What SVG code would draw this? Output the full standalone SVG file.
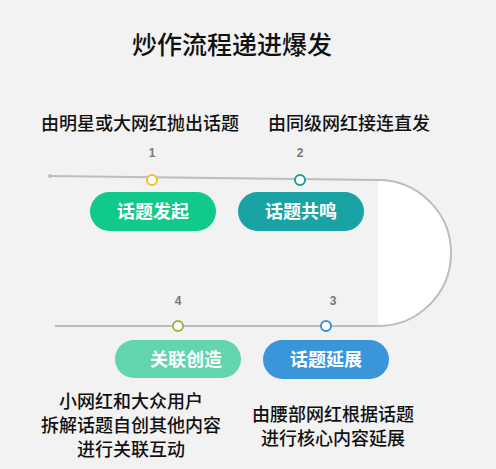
<svg xmlns="http://www.w3.org/2000/svg" width="496" height="469" viewBox="0 0 496 469">
<style>
.lbl{font-family:"Noto Sans CJK SC","Noto Sans",sans-serif;font-size:18px;font-weight:500;fill:#111;text-anchor:middle}
.ttl{font-family:"Noto Sans CJK SC","Noto Sans",sans-serif;font-size:25px;font-weight:500;fill:#111;text-anchor:middle}
.pt{font-family:"Noto Sans CJK SC","Noto Sans",sans-serif;font-size:18px;font-weight:bold;fill:#fff;text-anchor:middle}
.num{font-family:"Liberation Sans",Arial,sans-serif;font-size:12px;font-weight:bold;fill:#777;text-anchor:middle}
.dot{fill:#fff;stroke-width:2}
.track{fill:none;stroke:#bdbdbd;stroke-width:2}
</style>
<rect width="496" height="469" fill="#f2f2f2"/>
<text class="ttl" x="232" y="54">炒作流程递进爆发</text>
<g id="connectors">
<path d="M378 180 A73 73 0 0 1 378 326 Z" fill="#fff" stroke="none"/>
<path class="track" d="M50 176 L378 180 A73 73 0 0 1 378 326 L55 326"/>
<circle cx="50" cy="176" r="2" fill="#bdbdbd"/>
</g>
<g id="step1">
<text class="lbl" x="140" y="130">由明星或大网红抛出话题</text>
<text class="num" x="152" y="157">1</text>
<circle class="dot" cx="152" cy="180" r="5" stroke="#f2c029"/>
<rect x="90" y="192" width="126" height="39" rx="19.5" fill="#11c98b"/>
<text class="pt" x="153" y="218">话题发起</text>
</g>
<g id="step2">
<text class="lbl" x="349" y="130">由同级网红接连直发</text>
<text class="num" x="300" y="157">2</text>
<circle class="dot" cx="300" cy="180" r="5" stroke="#1ba0a0"/>
<rect x="238" y="192" width="126" height="39" rx="19.5" fill="#1aa3a4"/>
<text class="pt" x="301" y="218">话题共鸣</text>
</g>
<g id="step3">
<text class="num" x="333" y="305">3</text>
<circle class="dot" cx="326" cy="326" r="5" stroke="#3a90d6"/>
<rect x="263" y="340" width="126" height="39" rx="19.5" fill="#3a96d9"/>
<text class="pt" x="326" y="366">话题延展</text>
<text class="lbl" x="333" y="421">由腰部网红根据话题</text>
<text class="lbl" x="333" y="445">进行核心内容延展</text>
</g>
<g id="step4">
<text class="num" x="178" y="305">4</text>
<circle class="dot" cx="178" cy="326" r="5" stroke="#a3b045"/>
<rect x="115" y="340" width="126" height="38" rx="19" fill="#62d5ad"/>
<text class="pt" x="186" y="366">关联创造</text>
<text class="lbl" x="131" y="408">小网红和大众用户</text>
<text class="lbl" x="131" y="432">拆解话题自创其他内容</text>
<text class="lbl" x="131" y="456">进行关联互动</text>
</g>
</svg>
